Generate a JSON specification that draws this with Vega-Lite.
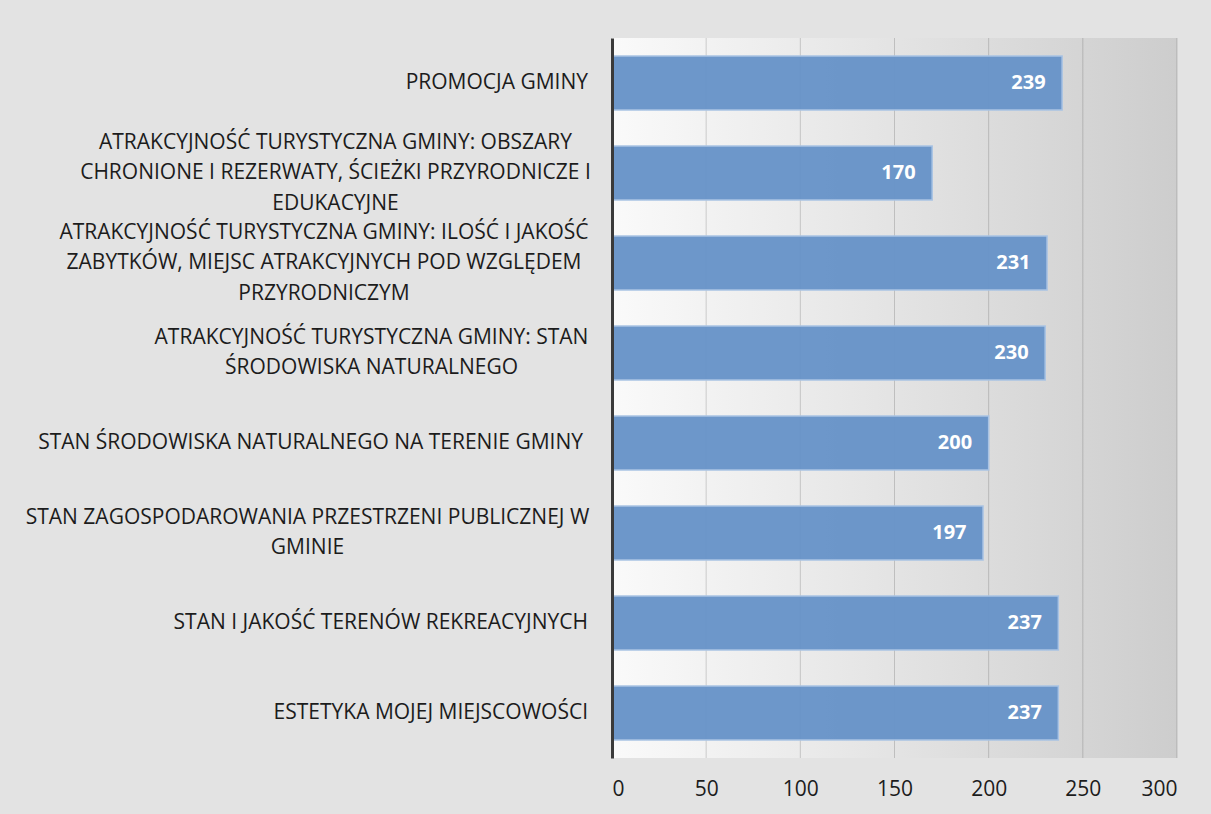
{
  "$schema": "https://vega.github.io/schema/vega-lite/v6.json",
  "width": 565,
  "height": 720,
  "autosize": {"type": "none"},
  "padding": {"left": 612, "top": 38, "right": 34, "bottom": 56},
  "background": "#e3e3e3",
  "config": {
    "font": "Open Sans",
    "view": {"stroke": null}
  },
  "datasets": {
    "odpowiedzi": [
      {"kategoria": "PROMOCJA GMINY", "liczba": 239},
      {"kategoria": "ATRAKCYJNOŚĆ TURYSTYCZNA GMINY: OBSZARY|CHRONIONE I REZERWATY, ŚCIEŻKI PRZYRODNICZE I|EDUKACYJNE", "liczba": 170},
      {"kategoria": "ATRAKCYJNOŚĆ TURYSTYCZNA GMINY: ILOŚĆ I JAKOŚĆ|ZABYTKÓW, MIEJSC ATRAKCYJNYCH POD WZGLĘDEM|PRZYRODNICZYM", "liczba": 231},
      {"kategoria": "ATRAKCYJNOŚĆ TURYSTYCZNA GMINY: STAN|ŚRODOWISKA NATURALNEGO", "liczba": 230},
      {"kategoria": "STAN ŚRODOWISKA NATURALNEGO NA TERENIE GMINY", "liczba": 200},
      {"kategoria": "STAN ZAGOSPODAROWANIA PRZESTRZENI PUBLICZNEJ W|GMINIE", "liczba": 197},
      {"kategoria": "STAN I JAKOŚĆ TERENÓW REKREACYJNYCH", "liczba": 237},
      {"kategoria": "ESTETYKA MOJEJ MIEJSCOWOŚCI", "liczba": 237}
    ],
    "podzialka": [
      {"wartosc": 50}, {"wartosc": 100}, {"wartosc": 150}, {"wartosc": 200}, {"wartosc": 250}, {"wartosc": 300}
    ]
  },
  "data": {"name": "odpowiedzi"},
  "layer": [
    {
      "mark": {
        "type": "rect",
        "fill": {
          "gradient": "linear",
          "x1": 0, "y1": 0.5, "x2": 1, "y2": 0.5,
          "stops": [
            {"offset": 0, "color": "#fafafa"},
            {"offset": 1, "color": "#cdcdcd"}
          ]
        }
      },
      "encoding": {
        "x": {"datum": 0, "type": "quantitative"},
        "x2": {"datum": 300}
      }
    },
    {
      "data": {"name": "podzialka"},
      "mark": {"type": "rule", "color": "#000000", "opacity": 0.16, "strokeWidth": 1},
      "encoding": {
        "x": {"field": "wartosc", "type": "quantitative"}
      }
    },
    {
      "mark": {"type": "bar", "color": "#6793c8", "fillOpacity": 0.96, "stroke": "#a9c3e4", "strokeWidth": 1.5},
      "encoding": {
        "y": {
          "field": "kategoria",
          "type": "nominal",
          "sort": null,
          "scale": {"paddingInner": 0.4, "paddingOuter": 0.2},
          "axis": {
            "title": null,
            "ticks": false,
            "grid": false,
            "labels": false,
            "domain": true,
            "domainColor": "#3a3a3a",
            "domainWidth": 3,
            "zindex": 2
          }
        },
        "x": {
          "field": "liczba",
          "type": "quantitative",
          "scale": {"domain": [0, 300], "nice": false},
          "axis": {
            "title": null,
            "values": [0, 50, 100, 150, 200, 250, 300],
            "domain": false,
            "ticks": false,
            "grid": false,
            "labelFont": "Open Sans",
            "labelFontSize": 21,
            "labelColor": "#1c1c1c",
            "labelPadding": 20
          }
        }
      }
    },
    {
      "mark": {"type": "text", "align": "right", "baseline": "middle", "dx": -16.5, "color": "#ffffff", "font": "Open Sans", "fontWeight": "bold", "fontSize": 20},
      "encoding": {
        "y": {"field": "kategoria", "type": "nominal", "sort": null},
        "x": {"field": "liczba", "type": "quantitative"},
        "text": {"field": "liczba", "type": "quantitative"}
      }
    },
    {
      "mark": {
        "type": "text",
        "baseline": "middle",
        "font": "Open Sans",
        "fontSize": 21,
        "color": "#1c1c1c",
        "lineBreak": "|",
        "lineHeight": 30.5,
        "align": {"expr": "indexof(datum.kategoria, '|') >= 0 ? 'center' : 'right'"},
        "dx": {"expr": "indexof(datum.kategoria, 'OBSZARY') >= 0 ? -276.5 : indexof(datum.kategoria, 'ILOŚĆ') >= 0 ? -288 : indexof(datum.kategoria, 'GMINY: STAN') >= 0 ? -240.5 : indexof(datum.kategoria, 'PUBLICZNEJ') >= 0 ? -304.5 : indexof(datum.kategoria, 'TERENIE') >= 0 ? -29 : -24"},
        "dy": {"expr": "-(length(split(datum.kategoria, '|')) - 1) * 15.25"}
      },
      "encoding": {
        "y": {"field": "kategoria", "type": "nominal", "sort": null},
        "x": {"datum": 0},
        "text": {"field": "kategoria", "type": "nominal"}
      }
    }
  ]
}
